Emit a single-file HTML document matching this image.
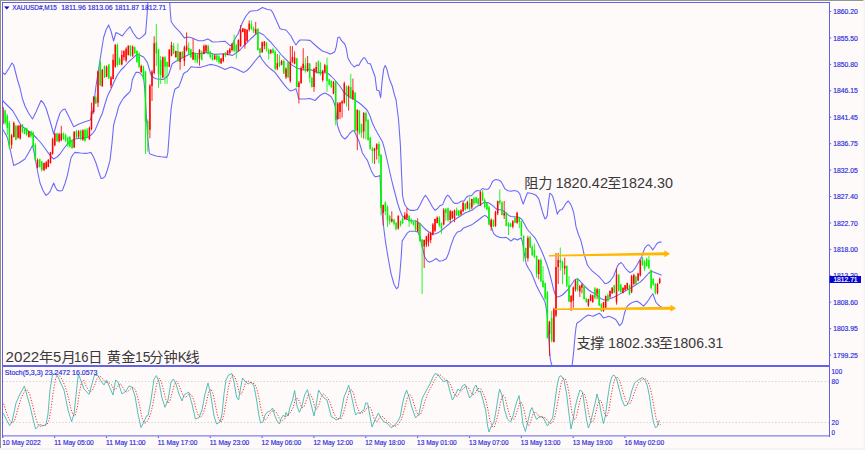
<!DOCTYPE html><html><head><meta charset="utf-8"><title>XAUUSD M15</title>
<style>html,body{margin:0;padding:0;background:#fefaf9;overflow:hidden}svg{display:block}text{font-family:"Liberation Sans",sans-serif}text.cjk{font-family:"Liberation Sans","Noto Sans CJK SC",sans-serif}</style></head><body>
<svg width="865" height="450" viewBox="0 0 865 450">
<rect width="865" height="450" fill="#fefaf9"/>
<defs><filter id="sb" x="-2%" y="-2%" width="104%" height="104%"><feGaussianBlur stdDeviation="0.42"/></filter><filter id="sb2" x="-2%" y="-2%" width="104%" height="104%"><feGaussianBlur stdDeviation="0.3"/></filter></defs>
<rect x="0" y="0" width="863.6" height="0.9" fill="#8a8a8a"/>
<rect x="0" y="0" width="1" height="448.3" fill="#8e8e8e"/>
<rect x="1" y="1" width="862" height="1" fill="#fefdfd"/>
<rect x="1" y="1" width="1" height="446" fill="#fefdfd"/>
<rect x="0" y="448" width="865" height="2" fill="#f4f2f2"/>
<rect x="863.6" y="0" width="1.4" height="450" fill="#f4f2f2"/>
<g filter="url(#sb)">
<g fill="none" stroke="#6a6af8" stroke-width="1.08" stroke-linejoin="round" stroke-linecap="round">
<path d="M2.5,72.4 5,74.5 8.7,68.7 12,63 13.7,65 17.5,80 20,88 22.5,99 25,106 28.5,113 32.5,119 36,112 41,100.5 43.5,103 46,108 50,121 53.7,134 57,122 60,113 62.5,110 65,109 69,117 73.7,126.7 79,124 85,121.7 90.4,120 93,110 96,86 100,60 103.6,37.5 106,30 108.6,25 111,31 113.6,41 116,32.5 119,34 122.3,36 126,31 130,26.7 133.1,32.7 137,38.1 139.3,38.9 142.4,36.6 145.6,33.5 146.8,18.7 147.9,2.5M169.7,2.5 170.3,12 171.2,21.8 175.1,27.2 179.8,31.9 184.5,38.1 186.8,37 189.5,37.3 192.2,38.1 195.5,39.5 198.5,40.8 203.1,40.8 207.8,38.9 210,40.3 212.5,42 218.7,41.7 224.9,41.2 227.5,43.3 230.4,45.9 232.7,43.6 235.8,37.3 238,34 240,29 242.4,22.5 246,16 250,11.2 254,10.8 257.4,10.5 260,9 262.4,7.5 265,8.5 267.4,9.5 271,10 273,13 275,17.5 277.5,23 280,28.7 283,29.5 286,30 288.5,33 291,36 293.5,41 296,45 298,42 300,40 305,40 310,40.4 315,45 318.5,48 322.3,51 327,52.5 330,54.1 332.3,53.3 334.7,51.8 336.2,47.1 337.8,37.5 339.3,37 341.7,40.9 344.8,44 346.3,48.7 347.9,58 351,63.5 354.1,67 357.2,65 358.8,65.5 361.1,61.1 363.5,57.7 365,58 368.1,63.5 370.5,63.9 372.8,70.5 375.1,76.7 376.7,89.9 379,90.7 380.6,97.7 382.1,81.4 383.7,68.9 385.2,65.5 386.8,68.9 389.1,78.2 392.2,86 394.6,95.4 396.1,100 398.6,120.5 400.4,145.4 401.5,172 402.5,195 403.6,201 405,205 407.5,208.5 410,210.4 414,210.4 417.4,209.4 419.5,206 421.2,202.4 423.5,198 425.4,195.4 427.5,198 430,202.4 432.5,207 435,210.4 437.5,208.5 440,205.7 442.8,204.4 444,201.5 445.1,198.8 446.3,196.5 447.6,195.3 448.9,196 450.2,197.9 451.6,200 453,202 454.8,203.4 458.5,203.2 460.8,201.3 464.1,200.9 465.3,199 466.4,197.2 468.2,196 471.5,195.6 472.7,194.3 473.8,192.8 475.4,191.5 477,190.5 480,191 482.3,188.5 484.7,189.3 487.8,189.3 489.7,187.3 490.9,185 492.4,181.8 494,180.3 496,179.5 498.5,180 501,181.5 503,185 504.9,188.9 508,190.8 511.1,191.2 514.2,190.4 517.4,191.2 519.7,193.6 521.6,199.8 523.2,204.1 525.1,199 527.5,192.8 530.6,193.2 534,194.3 536.5,195.8 538.7,198.7 540.3,204 541.8,209.6 543.4,214.8 544.9,218.9 546.2,218 547.2,215.8 548,208 548.8,200.2 549.9,193.2 551.3,194.3 552.7,196.3 555,204.1 556.2,209.5 557.3,214.2 558.5,211.8 559.7,210.3 562,209.6 564,206.5 565.9,203.3 568.2,201 570.6,204.1 572.2,208 573.7,212.7 574.9,219.5 576,226.7 578.4,234.5 580.7,239.9 583,249.2 583.6,252.5 587.4,265 590,268.5 592.4,271.2 595.5,273.7 598.6,276.2 602,280 604.9,283.7 607.5,283 609.9,281.2 613.6,276.2 617.4,266.2 619.3,263.7 621.1,262.5 623,264.5 624.8,267.5 627.3,270.3 629.8,272.5 632.3,271.5 634.8,268.7 637.3,264.5 639.8,260 641.8,256.5 643.6,251.2 644.9,247.9 647,245.5 648.8,244.8 650.8,247 652.7,249.9 654.8,247 656.6,244 658.9,242.1 661.2,242.1"/>
<path d="M2.5,100.5 7,105 12.5,110.5 17,118 21,125.5 27,130 32.5,134 37,138.5 41,143 45.5,149 50,155.4 53.7,159 57,157 60,154 63.5,149 67.4,144 71,141 75,139 82,138 88.6,137 92,134 95,130.4 98.5,122 102.4,113 105,104 107.5,96 111,89 114,82 117.4,75 121,70 125,66 128.5,62 132.3,58.7 135,56 137.3,54.4 140.5,55.5 143.6,57 147.3,62.4 149,68 151,75 153.5,77.5 156,78.7 160,79.2 163.5,79.4 166,77.5 168.5,75 170.5,69 172.3,63.7 175.5,61.5 178.5,60 182,58 186,56 189,54.5 192.3,53 196,53.5 199.8,53.7 203.5,53.3 207.5,52.4 211,53.3 215,54.4 220,54 225,53.7 229,54.7 232.5,55.4 236,53 240,50 243.5,46 247.4,42.4 250.5,39 253.7,36 256,34 258.7,32.5 261,33.5 263.7,35 267,38.5 271,42.4 274,46 277.4,50 281,54.5 285,58.7 288.5,62 292.4,65.4 297,68 302.4,70 306,70 310,69.4 314,71 317.4,72.4 322,72.8 327.3,73 331,76 334.8,80 337.3,83 339.8,86 343.7,92 347.3,95.5 350.5,97.5 353.7,99.3 357.5,101.7 361.2,104.5 364.5,107.5 367.4,110.5 370,116 372.4,123 375,128.5 377.4,133 380,137.5 382.4,141.7 384.3,148 386,155.4 388,164 390,173 392,181.5 393.6,188 395.5,195 397.5,203 400,210.5 402.5,216.2 405.5,218.5 408.7,220 412.5,220.8 416.2,221.2 420,223.7 423,226.8 426.2,230 429.5,232.5 432.4,234.4 435.5,233.8 438.7,232.4 442,230 445,227.4 448.5,224.5 452.4,221.2 456,218.7 460,216.2 465,213 470,211 472.4,210 475.2,207.6 478,205.7 480,205.3 481.9,203.7 483.9,202.5 487.8,202.5 490.1,203.7 492.5,205.4 494.8,207.6 497.1,209.5 501.8,209.9 504.1,211.5 506.5,213.4 508.8,215.4 511.1,216.5 517.4,217.1 519.7,217.7 522,219.6 525,225 527.4,229.5 531,233.5 535,237.8 538,243.5 541.2,250 543.7,256 546.2,262.5 548.2,268.5 550,275 551.8,282 553.7,290 555.3,294.5 556.9,297 559.5,296.5 562.4,295 565.5,292 568.7,288.7 571.2,285 573.7,281.2 575.5,279.5 577.4,278.7 580,281 582.4,283.7 585.5,287 588.6,290 591.7,292 594.9,293.7 598,296.2 601.1,298.7 603,299.6 604.9,300 607.4,299.6 609.9,298.7 613.6,297.2 617.4,295.4 621,293.4 624.8,291.2 628.5,289.2 632.3,287 636,284.8 639.8,282.4 643,279.5 646,276.2 648.5,273.5 651,271.2 653.5,272 656,273 658.5,274 661.2,275.1"/>
<path d="M2.5,129 5,133 7.5,138 10.5,151 13.7,165.4 19,163 25,159 29,152 32.5,145.4 34.3,153.5 36,163 38,173.5 40,183 43,190.5 46,195.4 48,194 50,191.6 52,187 53.7,183 55.5,187.5 57.4,190.4 60,191 62.4,190.4 65,183.5 67.4,175.4 69.3,166 71,158 73,154.5 75,152.4 80.5,153 86,153.4 88.5,153 91,152.4 93.5,157 96,163 98.5,171 101,178.4 103,178.2 105,176.6 107.5,169.5 110,160.4 112,143 113.6,125.4 114.8,120.5 116,116.7 117.3,112 118.6,106.7 121,102 123.6,98 127,94.5 130,91.7 131,88.5 132.3,80 134,76 136,72.4 138,72.3 139.8,73 141.7,75 143.6,77.4 144.8,90 146,110 147.5,135 149.3,153 150,154 153,155 156,156 161,156.8 166.8,157.4 167.8,153 168.8,140 169.8,125.4 171,110 172.3,100.5 173.5,95 174.9,89.2 177,87.8 178.8,86.9 181.1,80.7 183.5,73.7 185.4,72.3 187.3,71.4 189.3,69 191.2,66.7 195.5,67.2 199.8,67.4 205,66 210,64.4 214,65 217.5,66 221.5,67.8 225,69.4 228,68.2 231.2,67 234.5,68.2 237.5,69.4 240.5,71 243.7,72.4 247,70.5 250,67.4 252.5,64.3 255,61 257.5,58.2 260,55.4 262.4,60 265.5,63.8 268.7,67.4 272,70 275,72.4 278.7,77.3 282.4,82.4 286,86.8 290,91 293,90.3 296,88.6 297.3,93 298.6,98.6 300,99 305,99 310,98.5 312.5,99.5 315,100.5 317.5,98 320,95.5 322.5,94 325,93 328,94.5 331.2,96.7 333.2,100.5 335,105.5 336.3,115 337.5,125.4 339.3,131 341.2,135.4 343.2,137.7 345,139 347.5,136.5 350,133 352,131.3 353.7,130.4 355,132.5 356.2,135.4 358.7,140.4 360.5,146.5 362.4,153 365,157 367.4,160.4 369.3,165.5 371.2,170.4 373,174 375,176.6 377.5,176.5 380,175.4 381,200 382.5,217 384,230 385.6,242.4 387.9,256.5 391,273.6 394.1,284.5 396.5,288.8 398.3,286.8 399.6,276.7 401.1,258 402.2,240.9 404.2,237.8 407.3,233.1 409.7,231.2 415.1,231.2 418.2,232.3 419.8,237 422.1,245.6 424.5,256.5 426.8,260.3 429.1,262.2 432.2,261.1 436.1,258.5 439.2,261.1 442.4,260.8 446.3,258.8 448.6,253.3 450.9,245.6 454,237 457.1,232.3 461,230.8 463,228.3 466.2,227 469.3,225.8 472.4,224.4 476,221.8 480,218.7 482.5,216.8 484.9,215.4 486.8,216.5 488.6,218.7 491,226 493.6,233.7 496.5,236 499.8,237.4 503,237.7 506,237.4 508.5,239 511,241.2 514,238.5 517.5,240 521.2,237.8 522.5,242 523.7,250 525,257.5 526.2,264 528.5,268.5 531.2,272.5 533.7,278.5 536.2,285 538,288.7 540,292.4 542.5,297.3 544.9,301.5 546.2,308 547.2,315.6 548,327 548.8,338.9 549.5,349 550.3,359 551.2,363 551.9,365.4M572.1,365.4 573,358 573.7,351.4 574.5,342 575.2,334.2 576,327.5 576.8,323.3 579.1,321.8 581.5,319.8 583.8,317.9 586,316.3 588.5,315 591,315.8 593.1,316.3 596,314.8 599.4,313.2 601.5,315.3 603.3,317.9 606,317.2 608.7,316.3 612,317.5 615.7,319.5 617.7,322.6 619.6,325.7 621.9,323.3 623.2,319 624.3,314 625.7,309.5 627.3,306.2 629.8,304 632.3,302.4 634.8,301.6 637.3,301.2 640.5,303.5 643.6,306.2 646,303.3 648.6,300 650.8,296.5 652.8,293.7 654.4,298 656,302.4 658,304.5 659.8,306.2 661.2,306.5"/>
</g>
<g fill="none" stroke-linecap="butt">
<path stroke="#00f400" stroke-width="0.85" d="M5.1,109.8V124.6M7.3,114V135M9.4,121V149M15.9,124.8V140.3M22.4,124.3V133.2M24.6,128.2V134.2M26.7,127.6V136.2M31,130.4V137.9M33.2,131.4V147.4M35.4,143.2V161.1M39.7,158.8V167.4M41.8,160.9V171.6M57,132.7V142M63.4,132.5V140M65.6,133.5V142M67.8,136.7V147M69.9,136.3V147.7M72.1,139.2V148.7M76.4,129.9V138.8M80.7,129.7V140.3M85,128.8V142.1M87.2,128V138.4M95.8,95.7V104.2M100.2,60.7V85.8M104.5,65.5V77.9M108.8,63.8V79.2M117.4,43.3V66.6M119.6,57.3V65M130.4,45.1V56.4M134.7,46.6V53.7M136.9,50.2V62.8M139.1,52.4V68.4M143.4,65.5V80.4M145.5,71.1V154M147.7,119.4V151.5M156.3,23.9V66M158.5,48.8V88M160.7,56V84M165,56.1V83.8M167.1,61.7V83.8M173.6,43V54.2M177.9,43.3V61.6M182.3,51.1V58.3M188.7,42.6V53.9M190.9,49V58.1M195.2,52.7V63M197.4,53.1V63.5M201.7,50.6V60.3M208.2,44.6V54.4M210.3,51.4V58.7M212.5,53.7V60.5M216.8,54.5V61.9M219,54.6V63.8M225.5,52V56.9M234.1,34.5V52.3M236.3,43.9V58.6M251.4,20.4V29.9M253.6,26.5V33.1M257.9,28.2V50.6M260,47.9V55.5M266.5,41.8V51.6M268.7,48.5V59.4M273,47.7V53.4M275.2,50.3V70.4M279.5,54.7V67.4M283.8,59.4V74.1M288.1,61.7V78M296.8,57.9V87.5M305.4,57.6V72.6M309.7,63V82.5M311.9,76.7V87.5M318.4,60.3V74.1M320.5,62.2V75.6M327,57.6V91.8M329.2,78.7V85.5M331.3,80.3V88.2M335.7,80.5V125.3M346.5,85.4V106.7M350.8,73.9V99.1M355.1,92.4V131.7M359.4,110.4V134.6M361.6,123.5V137.8M365.9,111.5V139.4M368.1,118.8V140.8M370.2,136.8V149.8M372.4,147.1V163.3M378.9,141.7V163.3M381,154.2V215.2M385.3,201.2V215.2M387.5,205.3V226.9M389.7,215V224.6M394,218.5V225.5M396.1,222.1V230.4M400.5,220.5V226.6M402.6,217.4V224.1M409.1,214.7V226.9M411.3,218.3V223.9M413.4,220.9V225.7M415.6,219.8V231.5M419.9,222.6V241.8M422.1,239.1V294M439.3,216V227M441.5,222.4V233.9M445.8,208V220.7M448,207.5V221.7M456.6,207.5V215.9M458.8,210.1V216.7M465.3,203.4V210.5M469.6,197.3V211.3M473.9,196.6V205.4M476.1,196.8V203.6M478.2,198.1V205.3M482.6,190.1V201.2M484.7,198.3V208.5M486.9,202.7V210M489,205.5V225.5M493.4,219.4V227M499.8,189.3V204.5M502,201.1V215.3M506.3,211.9V226.2M508.5,222V235.2M510.6,222.7V227.4M515,217.5V223.2M519.3,216.7V228.2M521.4,220.8V236.5M523.6,235.5V261.5M525.8,247.5V258.7M530.1,235.8V248.2M532.2,245.3V255.9M534.4,243.6V258M536.6,255.5V277.8M540.9,258.3V281.7M543,266.1V287.6M545.2,282.8V299.9M547.4,291.1V338.5M551.7,310.9V342.5M560.3,247.5V270.8M562.5,260.6V284M566.8,265.1V287.3M569,276.2V302.4M577.6,278.1V291.5M584.1,285.4V299.8M586.3,298.2V302.7M594.9,287V299.3M599.2,288.6V306.1M601.4,303.2V311.8M607.9,293.5V301.9M614.3,284.8V293.2M618.7,273.9V291.5M620.8,284.1V292.7M629.5,284.5V295.2M635.9,275.4V285.3M642.4,257V266M644.6,260V271M646.7,257.5V267M648.9,255.7V269M651.1,269.5V289.5M653.2,278V286M655.4,283V294.5"/>
<path stroke="#ff0000" stroke-width="0.85" d="M2.9,106.7V124.5M11.6,134V148.7M13.8,121.5V137.4M18.1,124.9V138.6M20.2,125V139.6M28.9,131.2V137.6M37.5,158.4V168.5M44,162.6V171.2M46.2,161.1V169.4M48.3,158.9V167.3M50.5,151.9V163.6M52.6,137.7V154.7M54.8,132.9V146.3M59.1,132.8V142.6M61.3,125.8V141.2M74.2,131V147.9M78.6,130.1V138.3M82.9,129.2V140.9M89.4,126.5V139.8M91.5,102.7V130.4M93.7,96V113.8M98,70.6V107M102.3,68.9V86.8M106.6,65.3V77.2M111,76V88M113.1,54.2V79.4M115.3,44V67.8M121.8,50.3V65.3M123.9,50.3V60.5M126.1,47.2V62.2M128.3,45.3V55.5M132.6,45.5V56.9M141.2,64.6V73.1M149.9,84.2V138.2M152,69.8V101M154.2,36.3V74.4M162.8,56.5V78M169.3,49.3V67.2M171.5,41.8V56.3M175.8,50.8V57.5M180.1,51.5V69.8M184.4,45.6V65.9M186.6,32.4V51.5M193.1,38.5V60.2M199.5,49.1V65.6M203.9,44.5V54.3M206,44.6V52.2M214.7,54.4V59.6M221.1,58V64M223.3,53.4V62.3M227.6,50.1V55.3M229.8,47.7V54.9M232,43V51.5M238.4,39.3V51.8M240.6,25.1V46.9M242.8,28V32.3M244.9,28.4V48.5M247.1,29.2V42M249.2,20.4V31.5M255.7,22V34.6M262.2,41.5V52.8M264.4,41V49.2M270.8,49V54.3M277.3,54V70.2M281.6,59.9V65.3M286,67.2V79M290.3,46.1V82.8M292.4,46.1V63.1M294.6,51.3V64.3M298.9,80.9V103.5M301.1,66.2V83.6M303.2,48.2V70M307.6,56V72.1M314,68.3V91.8M316.2,62.2V73.4M322.7,69.9V81.7M324.8,63.8V72.8M333.5,81.1V94.3M337.8,101.9V119.9M340,101.9V119.1M342.1,100.1V117.6M344.3,81.6V103.7M348.6,85.4V110.6M352.9,78.6V99.8M357.3,109.3V150.2M363.7,111.9V138.6M374.5,147.9V164M376.7,143.2V159.5M383.2,204.5V225.3M391.8,211.3V222.6M398.3,215.2V229.5M404.8,212.1V220.1M406.9,208.2V220M417.7,218.3V232M424.2,239.5V268M426.4,235.9V247.1M428.5,232.6V246.4M430.7,231.6V243.2M432.9,223V235.5M435,218.7V232.1M437.2,216.3V223.4M443.7,208.1V225.4M450.2,209.8V223M452.3,210.8V219.2M454.5,209.6V222.2M461,209.2V214.7M463.1,201.7V212.2M467.4,200.8V209.2M471.8,198.6V209.3M480.4,191.2V205.8M491.2,218.4V230.6M495.5,210.6V226.8M497.7,200.7V215.2M504.2,201V219M512.8,220.1V228.4M517.1,211.9V223.8M527.9,235.8V261.5M538.7,259.1V279.4M549.5,320.8V356M553.9,307.6V342.4M556,252.9V317.1M558.2,252.9V284M564.7,257.6V274.7M571.1,295V311M573.3,286.3V307.8M575.5,279.3V291.5M579.8,284.9V296.9M581.9,283.4V293.4M588.4,298.9V307M590.6,293.9V301.4M592.7,294.8V302.6M597.1,288V299.2M603.5,301.8V311.8M605.7,295.5V309.5M610,290.4V298.4M612.2,287V294M616.5,268.5V304.7M623,287.5V293.4M625.1,284.9V290.7M627.3,282.6V289.3M631.6,274.8V293.2M633.8,273.7V285M638.1,272.8V281.3M640.3,259.6V276.5M657.5,283V294.5M659.7,277.5V284"/>
<path stroke="#00f400" stroke-width="1.5" d="M5.1,110.6V123M7.3,116V128M9.4,123V147M15.9,126V140M22.4,124.6V132.3M24.6,128.5V133.9M26.7,128.5V134.7M31,131.6V136.2M33.2,132.5V146.6M35.4,145V160.8M39.7,159.2V167M41.8,161.6V170.1M57,133.6V141.3M63.4,133.6V139M65.6,135.1V140.6M67.8,137.4V145.2M69.9,136.7V146.8M72.1,140.6V148.3M76.4,131.2V137.4M80.7,130.4V139M85,129.7V140.6M87.2,129.7V137.4M95.8,97.2V103.5M100.2,62V85.6M104.5,65.9V77.6M108.8,64.4V78.4M117.4,44.9V65.1M119.6,58.9V64.4M130.4,45.7V55.8M134.7,47.2V53.5M136.9,51.1V62M139.1,53.5V66.7M143.4,66.7V79.1M145.5,71.4V121.4M147.7,121V135M156.3,42.6V53.5M158.5,49.6V74.5M160.7,60V75M165,57.3V66.7M167.1,62V66.7M173.6,45.7V53.5M177.9,51.1V61.2M182.3,51.9V58.1M188.7,48V53.5M190.9,49.6V57.3M195.2,53.1V60.1M197.4,54.7V61.7M201.7,51.6V60M208.2,46.1V53.9M210.3,51.6V57M212.5,54.7V60.1M216.8,55.5V60.1M219,56.2V62.5M225.5,53.1V55.5M234.1,40.7V50.8M236.3,45.3V51.6M251.4,24.3V29M253.6,28.2V31.3M257.9,29V50M260,48.5V53.1M266.5,43V50M268.7,50V53.9M273,49.2V53.1M275.2,51.6V68.7M279.5,62V66M283.8,60.9V73.4M288.1,62.5V77.2M296.8,58.3V87.1M305.4,65.3V70.8M309.7,63.8V77.8M311.9,77.8V87.1M318.4,61.5V73.1M320.5,70V73.9M327,65.3V80.9M329.2,79.3V84.8M331.3,80.9V87.1M335.7,80.9V119.9M346.5,87.1V94.9M350.8,87.1V98M355.1,92.6V130.8M359.4,110.6V133.1M361.6,124V132.4M365.9,112.9V121.5M368.1,119.9V140.1M370.2,137.8V148.7M372.4,148.6V151M378.9,144V156M381,154.8V208.2M385.3,202.8V211.3M387.5,206.7V219.9M389.7,216V221.5M394,219.9V223.8M396.1,223V229.2M400.5,221.5V225.3M402.6,218.3V223M409.1,216V221.5M411.3,219.9V222.2M413.4,221.5V224.6M415.6,221.5V230M419.9,223V240.9M422.1,239.4V247M439.3,217.6V225.3M441.5,223V228.5M445.8,209V212.9M448,208.2V219.9M456.6,209.8V215.2M458.8,210.6V216M465.3,203.6V209.8M469.6,203V209M473.9,198.1V203.6M476.1,197.2V203M478.2,198.4V203.9M482.6,192.5V200.3M484.7,200V207M486.9,203.3V209.6M489,207.2V224.4M493.4,219.7V226.7M499.8,200.2V203.3M502,202.6V215M506.3,213.5V225.9M508.5,223.6V226.7M510.6,223.6V226.7M515,218.1V222.8M519.3,217.3V222M521.4,221.2V236M523.6,235.8V250.6M525.8,248V258M530.1,237.3V247.5M532.2,246.7V255.2M534.4,250V257M536.6,256V273.9M540.9,259.9V281.5M543,280.6V287M545.2,283V298.5M547.4,292.2V338M551.7,318V341M560.3,259.9V263M562.5,261.5V267.7M566.8,266.1V285.8M569,285.2V301.6M577.6,278.8V290M584.1,286.2V299M586.3,298.5V302.3M594.9,288.5V297.7M599.2,289.3V305.5M601.4,303.9V310.9M607.9,295.3V300.8M614.3,285V292.4M618.7,274.9V290.5M620.8,284.6V291.7M629.5,285.2V294.6M635.9,276.7V283.7M642.4,258V265M644.6,262V269M646.7,259V266M648.9,260V268M651.1,270V288M653.2,279V284.5M655.4,284V293"/>
<path stroke="#ff0000" stroke-width="1.5" d="M2.9,107.4V123.8M11.6,135.5V144.8M13.8,123V137M18.1,126V137.8M20.2,125.3V138.6M28.9,131.6V137M37.5,160V167.8M44,163.1V170.1M46.2,162.3V168.6M48.3,160V167M50.5,152.2V163.1M52.6,139V153.8M54.8,133.6V145.2M59.1,134.3V141.3M61.3,133.6V140.6M74.2,132V147.6M78.6,131.2V136.7M82.9,130.4V139.8M89.4,127.8V139.5M91.5,111.2V129.1M93.7,97.2V112M98,71.4V102.7M102.3,69.8V86.3M106.6,66.7V76.8M111,77.6V85.4M113.1,59.7V79.1M115.3,44.9V66.7M121.8,55V64.4M123.9,51.1V57.3M126.1,48.8V60.5M128.3,45.7V55M132.6,46.5V55.8M141.2,65.9V72.1M149.9,85.6V129.7M152,71.4V86M154.2,43.3V72.9M162.8,57.3V77.6M169.3,49.6V66.7M171.5,44.9V55.8M175.8,51.1V57.3M180.1,51.9V62M184.4,47.2V61.2M186.6,45.7V50.3M193.1,52.3V59.4M199.5,50V58.6M203.9,46.1V53.9M206,45.3V51.6M214.7,55.5V59.4M221.1,58.6V63.2M223.3,53.9V60.9M227.6,50.8V54.7M229.8,49.2V53.1M232,44.6V50M238.4,39.9V50.8M240.6,29.8V46.1M242.8,28.2V32.1M244.9,29V44.6M247.1,29.8V40.7M249.2,23.6V29.8M255.7,29V32.9M262.2,42.2V52.3M264.4,41.5V46M270.8,50V53.1M277.3,63.2V68.7M281.6,60.9V64.8M286,68.7V77.2M290.3,61.7V81.1M292.4,57V61.7M294.6,57.6V63.8M298.9,82.5V87.1M301.1,67.7V83.2M303.2,63.8V68.5M307.6,63V70.8M314,68.5V87.1M316.2,66.9V71.6M322.7,70.8V80.1M324.8,65.3V72.3M333.5,81.7V93.4M337.8,103.6V119.1M340,102.8V112.1M342.1,101.2V103.6M344.3,83.2V102.8M348.6,86.4V96M352.9,90.2V98.8M357.3,109.8V130.8M363.7,112.9V131.6M374.5,148.3V151M376.7,144.3V149.4M383.2,205.1V212.9M391.8,219.1V221.5M398.3,216V228.5M404.8,215.2V219.1M406.9,213.7V218.3M417.7,223V231.6M424.2,240.1V246.4M426.4,236.2V244.8M428.5,233.9V241.7M430.7,233.1V240.1M432.9,224.6V233.9M435,219.1V230.8M437.2,217.6V223M443.7,209.8V224.6M450.2,211.3V219.9M452.3,211.3V218.3M454.5,210.6V218.3M461,210.6V214.5M463.1,202.8V211.3M467.4,202V208.2M471.8,198.9V207.5M480.4,191.8V205.4M491.2,219.7V226.7M495.5,211.9V225.9M497.7,201V213.5M504.2,213V215.5M512.8,221.2V226.7M517.1,212.7V222.8M527.9,238.1V258.3M538.7,259.9V273.9M549.5,321.8V334.2M553.9,309.3V342M556,266.9V315.6M558.2,259.9V266.9M564.7,266.1V268.5M571.1,296V302M573.3,287.6V300.8M575.5,281.1V289.6M579.8,286.2V291.6M581.9,284.6V287.7M588.4,299.2V305.5M590.6,295.3V300.8M592.7,295.3V302.3M597.1,289.3V293.8M603.5,302.3V310.9M605.7,296.1V307.8M610,291V296.7M612.2,287.7V293.2M616.5,274.5V302.3M623,287.7V292.8M625.1,285.2V289.9M627.3,282.9V289.1M631.6,275.9V292.2M633.8,275.1V283.7M638.1,273.6V280.6M640.3,260.5V275.5M657.5,284V293M659.7,278.8V283"/>
</g>
</g>
<polygon fill="#ffb700" points="549,256.4 664.4,255.3 664.5,257.3 670.1,253.7 664.3,250.3 664.4,252.2 549,255"/>
<polygon fill="#ffb700" points="555,310 670.5,309.8 670.5,311.8 676.2,308.2 670.5,304.8 670.5,306.7 555,308.6"/>
<g fill="#6262e8">
<rect x="2" y="2" width="828" height="1"/>
<rect x="2" y="2" width="1" height="436"/>
<rect x="829" y="2" width="1" height="435"/>
<rect x="2" y="365" width="828" height="2"/>
<rect x="2" y="435.4" width="828" height="1"/>
<rect x="830" y="11" width="1.2" height="1"/>
<rect x="830" y="37.4" width="1.2" height="1"/>
<rect x="830" y="63.9" width="1.2" height="1"/>
<rect x="830" y="90.3" width="1.2" height="1"/>
<rect x="830" y="116.7" width="1.2" height="1"/>
<rect x="830" y="143.2" width="1.2" height="1"/>
<rect x="830" y="169.6" width="1.2" height="1"/>
<rect x="830" y="196" width="1.2" height="1"/>
<rect x="830" y="222.4" width="1.2" height="1"/>
<rect x="830" y="248.9" width="1.2" height="1"/>
<rect x="830" y="275.3" width="1.2" height="1"/>
<rect x="830" y="301.7" width="1.2" height="1"/>
<rect x="830" y="328.2" width="1.2" height="1"/>
<rect x="830" y="354.6" width="1.2" height="1"/>
<rect x="2.2" y="436.4" width="1.2" height="1.6"/>
<rect x="54.1" y="436.4" width="1.2" height="1.6"/>
<rect x="105.9" y="436.4" width="1.2" height="1.6"/>
<rect x="157.8" y="436.4" width="1.2" height="1.6"/>
<rect x="209.6" y="436.4" width="1.2" height="1.6"/>
<rect x="261.5" y="436.4" width="1.2" height="1.6"/>
<rect x="313.3" y="436.4" width="1.2" height="1.6"/>
<rect x="365.2" y="436.4" width="1.2" height="1.6"/>
<rect x="417" y="436.4" width="1.2" height="1.6"/>
<rect x="468.9" y="436.4" width="1.2" height="1.6"/>
<rect x="520.7" y="436.4" width="1.2" height="1.6"/>
<rect x="572.6" y="436.4" width="1.2" height="1.6"/>
<rect x="624.4" y="436.4" width="1.2" height="1.6"/>
</g>
<g stroke="#cfcdcd" stroke-width="1" stroke-dasharray="1.2,2.1">
<path d="M3,381.5H829M3,422.5H829"/>
</g>
<path fill="none" stroke="#4dbab3" stroke-width="0.95" stroke-linejoin="round" d="M3,413 9.6,425.6 12,422 16,403 20,394 24.4,386 30,406 33,419 35.6,429 40,424.4 43,426 46,424.4 48,414 50,390 52.4,375 55,373 58,377 64,390 68,410 71.6,421.6 74,414 77,386 78.4,374 81,381 84,389 89,394.4 92,384 94.4,375 98,375.6 101,381 104,385 106.6,380 110,388 113,395 115.6,380 118,382 122,394 126,391 129,386 132,387 135,396 138,414 141,427.6 144,422 146.4,416 148,415.6 151,400 154,379 156.4,375.6 159,382 162,398 165,407.3 168,400 171,382 173.4,379 176,384 179,394 182,401 184,395 188.6,392 192,404 195.4,419 199,417.6 202,410 205,394 208,383 210.6,394 214,416 216.6,424 220,422 222,414 224,394 226,380 228.6,375 232,373.6 234,382 236.6,397 238.6,400 240.6,388 242.6,378 245,381 248,384 251,382 254,386 256.6,400 259,416 260.6,423 263,422 265,415 267.4,412 270,411 272.6,408 274.6,415 277,421 279.4,424 281.4,418 283.4,415 285,417 286,412.4 288,416 290,407 292.6,400 294.6,390.4 297,406 299.4,412.4 302,406 304.6,395 307.4,389.6 310,400 314,416 316,406 318.6,390 321,394 324,398 327,400 329,408 331.4,417 334,418 336,420 340,418 342,408 344,397 347,390 348.6,385 351,394 353.6,406 355.6,415 358,412.4 359.6,414 362,411 364,410 365.6,403 367.6,403 369.6,414 372,427 375,420 378.4,413 381,418 384,422 387,423 391,427.6 394,426 398,421 400.4,416 402.4,404 404.4,396 406.6,390 409,397 412,408 415.6,418 419,414 421,404 422.4,398 426,391 430,384 433,377 435,373.6 438,374.4 441,379 444,381.6 447,380 449.6,390 452.4,400 455,395.6 458,389 460,391 462.4,386 465,384.4 467,390 469.6,398 472,395 474,388 476,385 478.4,392 480.4,391 483,400 485.6,410 487.6,426 489,432 491,427 494,422 496,411 498,398 499.6,389 502,395 504.6,410 507.4,419 510.6,422 513,416 516,404 519,395.6 521,408 523,424 525.4,431.6 528,421 530.6,410 532,407.6 534.6,415 536.6,419.6 539.4,416.6 542.6,416.6 545,421 547.4,426 550,422 552.6,418 554.6,404 557,386 559,377 561,375.6 564,380 566.6,394 569,414 571,429 573,420 575,408 577.4,398 580,390 582.6,392 584.6,406 586.6,420 588.4,428 590.6,422 593,412 595.4,402 597,394 599.4,403 601.4,414 603.4,423.6 605.4,416 607.4,400 610,383 612,376.4 614,375 616.6,379 619.4,390 622,400 624.6,406 627,405 629.4,400 632,390 634.6,383 637.4,380.6 640,379 642.6,377.6 645,380 647.4,386 649.4,396 651.4,410 653.4,422 655.4,427.6 657.4,426.4 659.4,420"/>
<path fill="none" stroke="#f03030" stroke-width="1" stroke-dasharray="1.2,1.6" d="M3.7,403.7 5.9,410.7 8.1,417.1 10.2,421.2 12.4,423 14.6,420.5 16.7,413.2 18.9,405.1 21,398.4 23.2,393.9 25.4,389.9 27.5,390.2 29.7,394.3 31.8,402.2 34,410.7 36.2,419.4 38.3,424.9 40.5,426.6 42.6,425.7 44.8,425.2 47,424.8 49.1,419.8 51.3,406.9 53.4,390.7 55.6,378.3 57.8,374.5 59.9,376.1 62.1,379.7 64.2,384.1 66.4,390.3 68.6,398.5 70.7,407.7 72.9,415 75,416 77.2,407.8 79.4,392.6 81.5,382.1 83.7,380.2 85.8,385.5 88,389.5 90.2,391.9 92.3,390.4 94.5,385.5 96.6,379.5 98.8,376.2 101,376.8 103.1,379.3 105.3,382.1 107.4,382.3 109.6,383.1 111.8,385.2 113.9,389.9 116.1,388.8 118.2,385.9 120.4,383.4 122.6,387.2 124.7,390.9 126.9,392.2 129.1,390.2 131.2,388.2 133.4,387.5 135.5,390.1 137.7,397.1 139.9,407.1 142,417.8 144.2,423 146.3,422.8 148.5,419 150.7,413.3 152.8,404.8 155,392.5 157.1,382.4 159.3,378.4 161.5,382.4 163.6,390.7 165.8,399.5 167.9,403.3 170.1,400.5 172.3,391.9 174.4,384.4 176.6,381.5 178.7,384.5 180.9,390.2 183.1,395.8 185.2,397.2 187.4,396.1 189.5,393.5 191.7,395.3 193.9,400.4 196,409 198.2,415 200.3,417.6 202.5,415.1 204.7,409 206.8,400.3 209,391.4 211.1,389 213.3,394.4 215.5,405.8 217.6,416.1 219.8,421.5 221.9,421.3 224.1,413.6 226.3,400.7 228.4,387.2 230.6,378.4 232.8,375 234.9,376.9 237.1,383.8 239.2,392.5 241.4,394.3 243.6,388.7 245.7,382.4 247.9,380.7 250,382.4 252.2,382.9 254.4,383.7 256.5,387.7 258.7,396.4 260.8,408.1 263,417.1 265.2,420 267.3,417.6 269.5,414 271.6,411.5 273.8,410.3 276,411.9 278.1,415.7 280.3,420.5 282.4,420.9 284.6,419 286.8,415.2 288.9,414.5 291.1,411.4 293.2,407.4 295.4,399 297.6,398.4 299.7,402 301.9,407.9 304,406.7 306.2,400.8 308.4,394.8 310.5,394.2 312.7,398.9 314.8,407.4 317,409.3 319.2,404 321.3,396.5 323.5,393.6 325.6,396 327.8,398.3 330,402.4 332.1,408.5 334.3,414.4 336.5,418.1 338.6,418.8 340.8,418.9 342.9,414.8 345.1,407.2 347.3,398.3 349.4,390.9 351.6,389.8 353.7,393.7 355.9,402.9 358.1,409.6 360.2,413.2 362.4,412.9 364.5,411.8 366.7,408.2 368.9,406.2 371,408.6 373.2,416.3 375.3,421.5 377.5,421.2 379.7,417.2 381.8,416.1 384,417.6 386.1,420.5 388.3,422.3 390.5,424 392.6,425.6 394.8,426.4 396.9,425.5 399.1,423.2 401.3,419.8 403.4,413 405.6,404.6 407.7,396.4 409.9,394.4 412.1,397.9 414.2,404.9 416.4,411.7 418.5,415.1 420.7,414.3 422.9,408.1 425,401.1 427.2,394.7 429.3,390.4 431.5,386.4 433.7,382.1 435.8,377.8 438,375 440.1,374.8 442.3,376.7 444.5,379.1 446.6,380.5 448.8,381.9 451,385.5 453.1,391.8 455.3,396 457.4,396.1 459.6,392.8 461.8,390.3 463.9,388.1 466.1,386.6 468.2,387.4 470.4,391.5 472.6,394.9 474.7,393.9 476.9,389.6 479,388.3 481.2,389.2 483.4,393.7 485.5,398.7 487.7,408.4 489.8,419.6 492,426.3 494.2,427.2 496.3,421.1 498.5,412.3 500.6,401.1 502.8,394.9 505,397.4 507.1,406 509.3,414.3 511.4,419.1 513.6,419.5 515.8,415.5 517.9,408.5 520.1,402.1 522.2,403.3 524.4,411.6 526.6,422.5 528.7,425.8 530.9,421.2 533,413.9 535.2,411.6 537.4,414.1 539.5,417.1 541.7,417.8 543.8,417.1 546,418.5 548.2,421.6 550.3,423.4 552.5,422.7 554.7,417.1 556.8,407.4 559,394.5 561.1,383.4 563.3,378.2 565.5,379.1 567.6,385.7 569.8,397.7 571.9,412.6 574.1,420.1 576.3,417.6 578.4,407.2 580.6,398 582.7,393.2 584.9,394.9 587.1,403.9 589.2,416 591.4,422.5 593.5,421 595.7,413.1 597.9,403.8 600,400.2 602.2,403.5 604.3,413.1 606.5,416.9 608.7,411.2 610.8,397.8 613,385.4 615.1,378.2 617.3,376.9 619.5,380.5 621.6,387.1 623.8,394.9 625.9,401.2 628.1,404.1 630.3,403.3 632.4,398.5 634.6,392.1 636.7,386.2 638.9,382.4 641.1,380.3 643.2,378.9 645.4,378.7 647.5,380.5 649.7,385.8 651.9,395.2 654,407.4 656.2,418.7 658.3,424.8 660.5,424.5"/>
<g fill="#2c2cdc" stroke="#2c2cdc" stroke-width="0.18" font-size="7.3px">
<text x="833.2" y="14.1" textLength="24.6" lengthAdjust="spacingAndGlyphs">1860.20</text>
<text x="833.2" y="40.5" textLength="24.6" lengthAdjust="spacingAndGlyphs">1855.50</text>
<text x="833.2" y="67" textLength="24.6" lengthAdjust="spacingAndGlyphs">1850.80</text>
<text x="833.2" y="93.4" textLength="24.6" lengthAdjust="spacingAndGlyphs">1846.15</text>
<text x="833.2" y="119.8" textLength="24.6" lengthAdjust="spacingAndGlyphs">1841.45</text>
<text x="833.2" y="146.2" textLength="24.6" lengthAdjust="spacingAndGlyphs">1836.75</text>
<text x="833.2" y="172.7" textLength="24.6" lengthAdjust="spacingAndGlyphs">1832.05</text>
<text x="833.2" y="199.1" textLength="24.6" lengthAdjust="spacingAndGlyphs">1827.40</text>
<text x="833.2" y="225.5" textLength="24.6" lengthAdjust="spacingAndGlyphs">1822.70</text>
<text x="833.2" y="252" textLength="24.6" lengthAdjust="spacingAndGlyphs">1818.00</text>
<text x="833.2" y="278.4" textLength="24.6" lengthAdjust="spacingAndGlyphs">1813.30</text>
<text x="833.2" y="304.8" textLength="24.6" lengthAdjust="spacingAndGlyphs">1808.60</text>
<text x="833.2" y="331.3" textLength="24.6" lengthAdjust="spacingAndGlyphs">1803.95</text>
<text x="833.2" y="357.7" textLength="24.6" lengthAdjust="spacingAndGlyphs">1799.25</text>
<text x="831.6" y="374.1" textLength="10.6" lengthAdjust="spacingAndGlyphs">100</text>
<text x="831.6" y="384.2" textLength="7.1" lengthAdjust="spacingAndGlyphs">80</text>
<text x="831.6" y="425" textLength="7.1" lengthAdjust="spacingAndGlyphs">20</text>
<text x="831.6" y="434.8" textLength="3.5" lengthAdjust="spacingAndGlyphs">0</text>
<text x="2.3" y="444.8" textLength="38.3" lengthAdjust="spacingAndGlyphs">10 May 2022</text>
<text x="54.2" y="444.8" textLength="39.6" lengthAdjust="spacingAndGlyphs">11 May 05:00</text>
<text x="106" y="444.8" textLength="39.6" lengthAdjust="spacingAndGlyphs">11 May 11:00</text>
<text x="157.8" y="444.8" textLength="39.6" lengthAdjust="spacingAndGlyphs">11 May 17:00</text>
<text x="209.7" y="444.8" textLength="39.6" lengthAdjust="spacingAndGlyphs">11 May 23:00</text>
<text x="261.6" y="444.8" textLength="39.6" lengthAdjust="spacingAndGlyphs">12 May 06:00</text>
<text x="313.4" y="444.8" textLength="39.6" lengthAdjust="spacingAndGlyphs">12 May 12:00</text>
<text x="365.2" y="444.8" textLength="39.6" lengthAdjust="spacingAndGlyphs">12 May 18:00</text>
<text x="417.1" y="444.8" textLength="39.6" lengthAdjust="spacingAndGlyphs">13 May 01:00</text>
<text x="469" y="444.8" textLength="39.6" lengthAdjust="spacingAndGlyphs">13 May 07:00</text>
<text x="520.8" y="444.8" textLength="39.6" lengthAdjust="spacingAndGlyphs">13 May 13:00</text>
<text x="572.7" y="444.8" textLength="39.6" lengthAdjust="spacingAndGlyphs">13 May 19:00</text>
<text x="624.5" y="444.8" textLength="39.6" lengthAdjust="spacingAndGlyphs">16 May 02:00</text>
<path d="M4.2,6.6h5.2l-2.6,2.8z" fill="#0808c8"/>
<text x="12.2" y="10.3" textLength="44.6" lengthAdjust="spacingAndGlyphs">XAUUSD#,M15</text>
<text x="61.2" y="10.3" textLength="105" lengthAdjust="spacingAndGlyphs">1811.96 1813.06 1811.87 1812.71</text>
<text x="4.8" y="375.2" textLength="92.6" lengthAdjust="spacingAndGlyphs">Stoch(5,3,3) 23.2472 16.0573</text>
</g>
<rect x="829.5" y="276" width="31.5" height="7" fill="#0606cc"/>
<text x="833.4" y="282.2" font-size="7.3px" fill="#ffffff" stroke="#ffffff" stroke-width="0.15" textLength="24.2" lengthAdjust="spacingAndGlyphs">1812.71</text>
<text class="cjk" x="524.3" y="187.6" font-size="14.2px" fill="#3a3838">阻</text>
<text class="cjk" x="538.2" y="187.6" font-size="14.2px" fill="#3a3838">力</text>
<text x="555.4" y="187.6" font-size="14.8px" fill="#3a3838" textLength="52.6" lengthAdjust="spacingAndGlyphs">1820.42</text>
<text class="cjk" x="607.3" y="187.6" font-size="14.2px" fill="#3a3838">至</text>
<text x="621.1" y="187.6" font-size="14.8px" fill="#3a3838" textLength="51.8" lengthAdjust="spacingAndGlyphs">1824.30</text>
<text class="cjk" x="576.5" y="347.6" font-size="14.2px" fill="#3a3838">支</text>
<text class="cjk" x="590.2" y="347.6" font-size="14.2px" fill="#3a3838">撑</text>
<text x="607.9" y="347.6" font-size="14.8px" fill="#3a3838" textLength="52.0" lengthAdjust="spacingAndGlyphs">1802.33</text>
<text class="cjk" x="658.8" y="347.6" font-size="14.2px" fill="#3a3838">至</text>
<text x="672.8" y="347.6" font-size="14.8px" fill="#3a3838" textLength="50.6" lengthAdjust="spacingAndGlyphs">1806.31</text>
<text x="5.6" y="361.8" font-size="14.8px" fill="#3a3838" textLength="33.6" lengthAdjust="spacingAndGlyphs">2022</text>
<text class="cjk" x="38.9" y="361.8" font-size="14.2px" fill="#3a3838">年</text>
<text x="53.1" y="361.8" font-size="14.8px" fill="#3a3838" textLength="8.2" lengthAdjust="spacingAndGlyphs">5</text>
<text class="cjk" x="61.6" y="361.8" font-size="14.2px" fill="#3a3838">月</text>
<text x="74" y="361.8" font-size="14.8px" fill="#3a3838" textLength="14.6" lengthAdjust="spacingAndGlyphs">16</text>
<text class="cjk" x="88.2" y="361.8" font-size="14.2px" fill="#3a3838">日</text>
<text class="cjk" x="106.8" y="361.8" font-size="14.2px" fill="#3a3838">黄</text>
<text class="cjk" x="121.2" y="361.8" font-size="14.2px" fill="#3a3838">金</text>
<text x="135" y="361.8" font-size="14.8px" fill="#3a3838" textLength="15.4" lengthAdjust="spacingAndGlyphs">15</text>
<text class="cjk" x="149.3" y="361.8" font-size="14.2px" fill="#3a3838">分</text>
<text class="cjk" x="163.6" y="361.8" font-size="14.2px" fill="#3a3838">钟</text>
<text x="177.8" y="361.8" font-size="14.8px" fill="#3a3838" textLength="9.2" lengthAdjust="spacingAndGlyphs">K</text>
<text class="cjk" x="185.6" y="361.8" font-size="14.2px" fill="#3a3838">线</text>
</svg></body></html>
